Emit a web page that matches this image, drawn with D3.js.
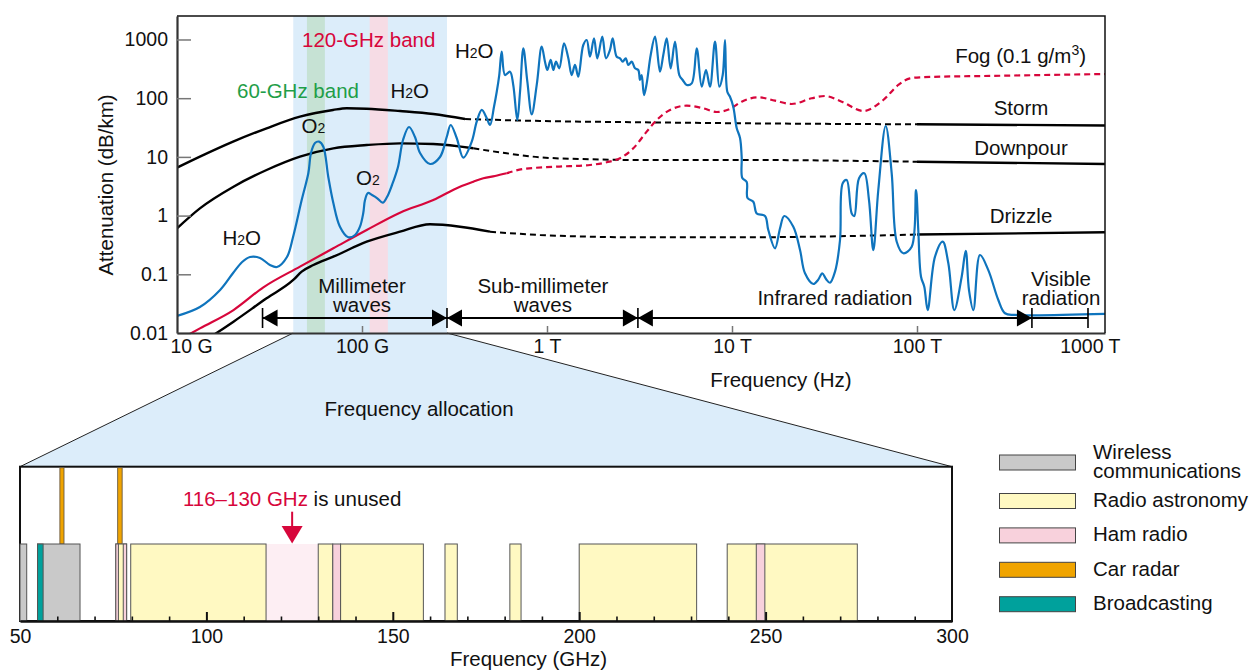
<!DOCTYPE html>
<html>
<head>
<meta charset="utf-8">
<script src="https://cdn.jsdelivr.net/npm/d3@7"></script>
<style>
  body { margin: 0; background: #fff; }
  text { font-family: "Liberation Sans", Arial, Helvetica, sans-serif; }
</style>
</head>
<body>
<svg id="chart" width="1251" height="670"></svg>
<script>
'use strict';

// ---- attenuation curves, [GHz, dB/km] ----
var waterOxygen = [[10,0.0195],[13.3,0.0277],[17.1,0.054],[20.1,0.105],[22.5,0.162],[24.8,0.197],[28.1,0.19],[31.8,0.144],
  [34.7,0.133],[39.3,0.197],[42.4,0.432],[47.2,1.84],[51.3,5.32],[53.0,11.65],[55.7,17.25],[58.6,18.2],[61.8,14.9],
  [65.7,4.6],[70.0,1.64],[76.0,0.647],[84.3,0.427],[91.7,0.467],[97.5,0.647],[101.6,1.107],[103.8,1.84],[107.7,2.43],
  [113.3,2.24],[120.5,1.99],[129.4,1.66],[136.5,2.07],[145.3,3.32],[156.5,6.73],[166.6,19.4],[179.5,32.3],[193.4,21.8],
  [205.9,11.65],[233.2,7.57],[264,9.96],[287,21.8],[301.6,34.9],[325,21.0],[353,9.69],[392,18.2],[417,39.8],[444,63],
  [472,46],[492,34.9],[517,71.6],[535,129],[552,248],[569,620],[593,248],[631,283],[657,168],[691,42.5],[715,129],
  [745,708],[783,191],[827,53.2],[880,168],[936,754],[975,419],[1004,302],[1047,448],[1082,302],[1118,419],[1165,323],
  [1236,861],[1304,478],[1360,248],[1417,368],[1476,232],[1571,806],[1639,980],[1708,509],[1795,1048],[1871,478],
  [1990,1116],[2084,478],[2190,662],[2265,1048],[2381,509],[2481,478],[2566,419],[2664,478],[2751,368],[2870,419],
  [2991,323],[3115,302],[3182,204],[3250,248],[3344,113],[3459,179],[3635,544],[3836,1116],[4081,283],[4252,544],
  [4436,1048],[4662,323],[4919,917],[5190,248],[5414,204],[5690,168],[6057,179],[6445,708],[6859,157],[7236,302],
  [7604,157],[8093,917],[8540,157],[8908,248],[9166,980],[9432,129],[9754,106],[10160,71.6],[10600,31.1],[11050,21.0],
  [11280,9.96],[11370,4.37],[12010,3.74],[12130,1.99],[13040,1.72],[13600,1.09],[15080,0.984],[15710,0.568],
  [17080,0.277],[18180,0.608],[19170,0.984],[21450,0.647],[23320,0.259],[24810,0.104],[27510,0.0684],[29170,0.080],
  [30770,0.104],[32220,0.0832],[33860,0.0719],[36050,0.111],[38360,0.384],[39660,3.55],[41690,4.04],[44360,1.09],
  [45820,0.984],[48600,4.32],[51900,5.26],[55020,1.84],[58040,0.259],[61770,2.73],[67740,33.6],[72980,5.26],
  [77690,0.359],[84320,0.228],[93630,0.295],[98770,2.73],[101600,0.568],[105100,0.091],[109500,0.0615],[114200,0.0246],
  [125100,0.1995],[137700,0.359],[147700,0.154],[159100,0.0246],[174400,0.091],[183400,0.252],[191000,0.054],
  [201600,0.0246],[219000,0.213],[242900,0.118],[275100,0.0365],[299000,0.0217],[338600,0.0203],[1038000,0.0211]];

var storm = [[10,6.55],[13.3,10.1],[20.1,18.2],[30.5,30.7],[46.2,48.4],[69.7,63],[82.7,67.3],[106,66.2],[160.5,60.5],
  [242.9,53.8],[360.6,44.2],[916.7,40.9],[3182,38.9],[11050,37.4],[100000,35.9],[1038000,34.3]];
var downpour = [[10,0.608],[13.3,1.33],[20.2,3.11],[30.5,5.98],[46.2,10.1],[70,14],[106,15.9],[160.5,17],[242.9,16.6],
  [399.6,14],[605.7,11.5],[916.7,9.84],[1708,9.1],[3182,8.86],[11050,8.86],[100000,8.28],[1038000,7.57]];
var drizzle = [[14.2,0.00745],[20.2,0.0156],[30.5,0.039],[42.5,0.080],[47.2,0.111],[54.6,0.144],[70,0.1995],[106,0.359],
  [160.5,0.532],[233.2,0.711],[338.6,0.647],[492,0.532],[916.7,0.467],[3182,0.427],[11050,0.427],[100000,0.476],[1038000,0.519]];
var fog = [[11.05,0.00868],[13.3,0.012],[20.2,0.0246],[29.3,0.060],[46.2,0.135],[70,0.277],[106,0.568],[160.5,1.12],
  [242.9,1.84],[338.6,3.11],[399.6,3.78],[452.6,4.32],[523.5,4.73],[605.7,5.26],[744.7,6.22],[1128,6.81],[1708,7.28],
  [2102,8.09],[2481,9.47],[2928,14],[3459,26.9],[3917,42.5],[4623,63],[5690,74.5],[6998,67.3],[8268,58.2],[9754,65.5],
  [11280,87.2],[13870,103.6],[17080,90.7],[21020,79.6],[26970,99.6],[31820,109],[39180,87.2],[51260,60.5],[65740,93.2],
  [79250,168],[91670,218],[103800,227],[305400,242],[1038000,258]];

// where each curve is dashed (extrapolated), GHz
var stormDashed = [360.6, 100000];
var downpourDashed = [399.6, 100000];
var drizzleDashed = [492, 100000];
var fogDashedFrom = 605.7;

var freqTicks = [10, 100, 1000, 10000, 100000, 1000000];
var freqTickLabels = ["10 G", "100 G", "1 T", "10 T", "100 T", "1000 T"];
var attenTicks = [0.01, 0.1, 1, 10, 100, 1000];

var mmBand = [42.5, 288];
var band60 = [50.4, 63];
var band120 = [110, 138];

var waveEdges = [29, 288, 3100, 418000, 840000];
var waveNames = [["Millimeter", "waves"], ["Sub-millimeter", "waves"], ["Infrared radiation"], ["Visible", "radiation"]];
var waveLabelAt = [100, 950, 36000, 600000];

// ---- frequency allocation, GHz ----
var allocTypes = [["Wireless", "communications"], ["Radio astronomy"], ["Ham radio"], ["Car radar"], ["Broadcasting"]];
var allocColors = ["#c9c9c9", "#fff9c2", "#f8d1dc", "#f0a400", "#00a19c"];
var allocBands = [
  [50, 51.8, 0], [54.7, 66.1, 0], [54.7, 56.2, 4],
  [75.7, 78.6, 1], [75.7, 76.4, 2], [77.7, 78.6, 2],
  [79.7, 116, 1], [130, 133.9, 1], [133.9, 136, 2], [136, 158.2, 1],
  [164, 167.3, 1], [181.4, 184.4, 1], [200, 231.5, 1], [239.7, 274.6, 1], [247.5, 249.8, 2]
];
var carRadar = [[60.7, 61.8], [76.2, 77.4]];
var unusedBand = [116, 130];
var allocTicks = [50, 100, 150, 200, 250, 300];
var allocMinor = [60, 70, 80, 90, 110, 120, 130, 140, 160, 170, 180, 190, 210, 220, 230, 240, 260, 270, 280, 290];

var RED = "#d7063b", GREEN = "#1f9e48", BLUE = "#0f74bd";

var svg = d3.select("#chart");

var x = d3.scaleLog().domain([10, 1038000]).range([177, 1105]);
var y = d3.scaleLog().domain([0.01, 2512]).range([333, 16]);
var xb = d3.scaleLinear().domain([50, 300]).range([20, 952]);
var boxTop = 466.7, boxBottom = 621, barTop = 544;

// funnel from the millimeter band down to the allocation chart
svg.append("polygon")
    .attr("points", [[x(mmBand[0]), 333], [x(mmBand[1]), 333], [xb(300), boxTop], [xb(50), boxTop]].join(" "))
    .attr("fill", "#dcedfa");
svg.append("line").attr("x1", x(mmBand[0])).attr("y1", 333).attr("x2", xb(50)).attr("y2", boxTop)
    .attr("stroke", "#222").attr("stroke-width", 1);
svg.append("line").attr("x1", x(mmBand[1])).attr("y1", 333).attr("x2", xb(300)).attr("y2", boxTop)
    .attr("stroke", "#222").attr("stroke-width", 1);
svg.append("text").attr("x", 419).attr("y", 416).attr("text-anchor", "middle")
    .attr("font-size", 20.5).attr("fill", "#111").text("Frequency allocation");

// shaded bands
function band(b, color) {
    svg.append("rect").attr("x", x(b[0])).attr("y", 16)
        .attr("width", x(b[1]) - x(b[0])).attr("height", 317).attr("fill", color);
}
band(mmBand, "#dcedfa");
band(band60, "#c6e2d4");
band(band120, "#f6dce5");

svg.append("defs").append("clipPath").attr("id", "plot")
    .append("rect").attr("x", 177).attr("y", 16).attr("width", 928).attr("height", 317);
var plot = svg.append("g").attr("clip-path", "url(#plot)");

var smooth = d3.line().x(function (d) { return x(d[0]); }).y(function (d) { return y(d[1]); })
    .curve(d3.curveMonotoneX);
var wiggly = d3.line().x(function (d) { return x(d[0]); }).y(function (d) { return y(d[1]); })
    .curve(d3.curveCatmullRom.alpha(0.5));

function part(pts, lo, hi) {
    return pts.filter(function (d) { return d[0] >= lo && d[0] <= hi; });
}
function drawRain(pts, dashed) {
    [part(pts, 0, dashed[0]), part(pts, dashed[0], dashed[1]), part(pts, dashed[1], Infinity)]
        .forEach(function (seg, i) {
            plot.append("path").attr("d", smooth(seg)).attr("fill", "none")
                .attr("stroke", "#000").attr("stroke-width", i === 1 ? 2 : 2.4)
                .attr("stroke-dasharray", i === 1 ? "6,4" : null);
        });
}
drawRain(storm, stormDashed);
drawRain(downpour, downpourDashed);
drawRain(drizzle, drizzleDashed);

plot.append("path").attr("d", smooth(part(fog, 0, fogDashedFrom))).attr("fill", "none")
    .attr("stroke", RED).attr("stroke-width", 2.2);
plot.append("path").attr("d", smooth(part(fog, fogDashedFrom, Infinity))).attr("fill", "none")
    .attr("stroke", RED).attr("stroke-width", 2.2).attr("stroke-dasharray", "6,4");

plot.append("path").attr("d", wiggly(waterOxygen)).attr("fill", "none")
    .attr("stroke", BLUE).attr("stroke-width", 2.2).attr("stroke-linejoin", "round");

// axes
var gy = svg.append("g").attr("transform", "translate(177,0)")
    .call(d3.axisLeft(y).tickValues(attenTicks).tickFormat(d3.format("~g"))
        .tickSizeInner(-14).tickSizeOuter(0).tickPadding(9));
var gx = svg.append("g").attr("transform", "translate(0,333)")
    .call(d3.axisBottom(x).tickValues(freqTicks).tickFormat(function (d, i) { return freqTickLabels[i]; })
        .tickSizeInner(-7).tickSizeOuter(0).tickPadding(6));
[gx, gy].forEach(function (g) {
    g.select(".domain").attr("stroke", "#333").attr("stroke-width", 2.2);
    g.selectAll(".tick line").attr("stroke", "#777").attr("stroke-width", 1.5);
    g.selectAll(".tick text").attr("font-size", 19.5).attr("fill", "#111");
});
gx.selectAll(".tick").filter(function (d, i) { return i === 0 || i === freqTicks.length - 1; })
    .select("line").remove();
gx.selectAll(".tick text").filter(function (d, i) { return i === 0; })
    .attr("text-anchor", "start").attr("dx", -7);
gx.selectAll(".tick text").filter(function (d, i) { return i === freqTicks.length - 1; })
    .attr("text-anchor", "end").attr("dx", 18);
svg.append("path").attr("d", "M177,16H1105V333").attr("fill", "none").attr("stroke", "#111").attr("stroke-width", 1.5);

svg.append("text").attr("x", 781).attr("y", 387).attr("text-anchor", "middle")
    .attr("font-size", 20.5).attr("fill", "#111").text("Frequency (Hz)");
svg.append("text").attr("transform", "translate(113,185) rotate(-90)").attr("text-anchor", "middle")
    .attr("font-size", 20.5).attr("fill", "#111").text("Attenuation (dB/km)");

// wavelength ranges
var arrowY = 318;
var arrows = svg.append("g");
arrows.append("line").attr("x1", x(waveEdges[0])).attr("x2", x(waveEdges[4]))
    .attr("y1", arrowY).attr("y2", arrowY).attr("stroke", "#000").attr("stroke-width", 2);
waveEdges.forEach(function (f) {
    arrows.append("line").attr("x1", x(f)).attr("x2", x(f)).attr("y1", arrowY - 10).attr("y2", arrowY + 10)
        .attr("stroke", "#000").attr("stroke-width", 1.6);
});
for (var i = 0; i < 3; i++) {
    var a = x(waveEdges[i]), b = x(waveEdges[i + 1]);
    arrows.append("path").attr("d", "M" + a + "," + arrowY + "l15,-8.5v17z");
    arrows.append("path").attr("d", "M" + b + "," + arrowY + "l-15,-8.5v17z");
}
var lineBaselines = { 1: [305], 2: [293, 312] };
waveNames.forEach(function (lines, i) {
    var base = i === 3 ? [286, 305] : lineBaselines[lines.length];
    lines.forEach(function (s, j) {
        svg.append("text").attr("x", x(waveLabelAt[i])).attr("y", base[j]).attr("text-anchor", "middle")
            .attr("font-size", 20.5).attr("fill", "#111").text(s);
    });
});

// annotations
function label(px, py, parts, color, anchor) {
    var t = svg.append("text").attr("x", px).attr("y", py).attr("font-size", 20.5)
        .attr("fill", color || "#111").attr("text-anchor", anchor || "start");
    parts.forEach(function (p) {
        var s = t.append("tspan").text(p[0]);
        if (p[1] === "sub") s.attr("font-size", 14);
        if (p[1] === "sup") s.attr("font-size", 14).attr("dy", -8);
        if (p[1] === "back") s.attr("dy", 8);
    });
}
label(302, 46.7, [["120-GHz band"]], RED);
label(237, 98.3, [["60-GHz band"]], GREEN);
label(390.5, 98.3, [["H"], ["2", "sub"], ["O"]]);
label(455, 58.3, [["H"], ["2", "sub"], ["O"]]);
label(222.5, 245, [["H"], ["2", "sub"], ["O"]]);
label(301.5, 132.7, [["O"], ["2", "sub"]]);
label(356, 185, [["O"], ["2", "sub"]]);
label(1086, 63.3, [["Fog (0.1 g/m"], ["3", "sup"], [")", "back"]], "#111", "end");
label(1021, 115, [["Storm"]], "#111", "middle");
label(1021, 155, [["Downpour"]], "#111", "middle");
label(1021, 222.7, [["Drizzle"]], "#111", "middle");

// ---- allocation chart ----
var alloc = svg.append("g");
alloc.append("rect").attr("x", xb(50)).attr("y", boxTop).attr("width", xb(300) - xb(50))
    .attr("height", boxBottom - boxTop).attr("fill", "#fff").attr("stroke", "#111").attr("stroke-width", 2);
alloc.append("rect").attr("x", xb(unusedBand[0])).attr("y", barTop)
    .attr("width", xb(unusedBand[1]) - xb(unusedBand[0])).attr("height", boxBottom - barTop).attr("fill", "#fdeef3");
alloc.selectAll(".radar").data(carRadar).enter().append("rect")
    .attr("x", function (d) { return xb(d[0]); }).attr("y", boxTop + 1)
    .attr("width", function (d) { return xb(d[1]) - xb(d[0]); }).attr("height", barTop - boxTop - 1)
    .attr("fill", allocColors[3]).attr("stroke", "#6a5a40").attr("stroke-width", 0.9);
alloc.selectAll(".band").data(allocBands).enter().append("rect")
    .attr("x", function (d) { return xb(d[0]); }).attr("y", barTop)
    .attr("width", function (d) { return xb(d[1]) - xb(d[0]); }).attr("height", boxBottom - barTop)
    .attr("fill", function (d) { return allocColors[d[2]]; })
    .attr("stroke", "#555").attr("stroke-width", 1);

var gb = alloc.append("g").attr("transform", "translate(0," + boxBottom + ")")
    .call(d3.axisBottom(xb).tickValues(allocTicks).tickSizeInner(-9).tickSizeOuter(0).tickPadding(8));
var gm = alloc.append("g").attr("transform", "translate(0," + boxBottom + ")")
    .call(d3.axisBottom(xb).tickValues(allocMinor).tickFormat("").tickSizeInner(-4.5).tickSizeOuter(0));
gm.select(".domain").remove();
gb.select(".domain").attr("stroke", "#111").attr("stroke-width", 2.6);
gb.selectAll(".tick line").attr("stroke", "#111").attr("stroke-width", 2);
gm.selectAll(".tick line").attr("stroke", "#111").attr("stroke-width", 1.6);
gb.selectAll(".tick text").attr("font-size", 19.5).attr("fill", "#111");
gb.selectAll(".tick").filter(function (d) { return d === 50 || d === 300; }).select("line").remove();

svg.append("text").attr("x", 528.5).attr("y", 666).attr("text-anchor", "middle")
    .attr("font-size", 20.5).attr("fill", "#111").text("Frequency (GHz)");

// unused-band callout
var ax = xb((unusedBand[0] + unusedBand[1]) / 2);
svg.append("line").attr("x1", ax).attr("x2", ax).attr("y1", 511.7).attr("y2", 527)
    .attr("stroke", RED).attr("stroke-width", 2);
svg.append("path").attr("d", "M" + ax + "," + (barTop - 0.5) + "l-10.5,-17.5h21z").attr("fill", RED);
var ut = svg.append("text").attr("x", ax).attr("y", 506).attr("text-anchor", "middle").attr("font-size", 20.5);
ut.append("tspan").attr("fill", RED).text(unusedBand[0] + "\u2013" + unusedBand[1] + " GHz");
ut.append("tspan").attr("fill", "#111").text(" is unused");

// legend
var legend = svg.append("g");
allocTypes.forEach(function (lines, i) {
    var top = i === 0 ? 455 : 493.5 + (i - 1) * 34.4;
    legend.append("rect").attr("x", 999.5).attr("y", top).attr("width", 76).attr("height", 15)
        .attr("fill", allocColors[i]).attr("stroke", "#444").attr("stroke-width", 1);
    lines.forEach(function (s, j) {
        legend.append("text").attr("x", 1093).attr("y", (lines.length > 1 ? top + 4 : top + 13.3) + j * 18.7)
            .attr("font-size", 20.5).attr("fill", "#111").text(s);
    });
});
</script>
</body>
</html>
